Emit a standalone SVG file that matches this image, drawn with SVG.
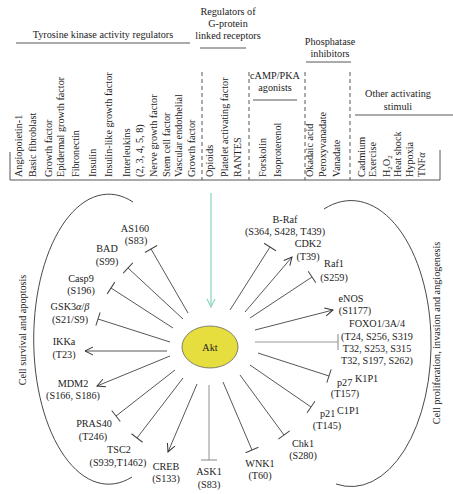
<svg xmlns="http://www.w3.org/2000/svg" width="453" height="494" viewBox="0 0 453 494">
<defs>
<style>
text{font-family:"Liberation Serif","Times New Roman",serif;font-size:10.2px;fill:#222}
.c{text-anchor:middle}
.v{text-anchor:start}
.ln{stroke:#444;stroke-width:0.9;fill:none}
.lg{stroke:#999;stroke-width:1.1;fill:none}
.hd{stroke:#444;stroke-width:0.9;fill:none}
.ds{stroke:#444;stroke-width:0.9;stroke-dasharray:4,3;fill:none}
.arc{stroke:#333;stroke-width:0.9;fill:none}
.act{marker-end:url(#ah)}
.inh{marker-end:url(#bar)}
.inhg{marker-end:url(#barg)}
</style>
<marker id="ah" markerUnits="userSpaceOnUse" markerWidth="12" markerHeight="12" refX="9" refY="5" orient="auto"><path d="M1,1 L9,5 L1,9" fill="none" stroke="#333" stroke-width="1"/></marker>
<marker id="bar" markerUnits="userSpaceOnUse" markerWidth="4" markerHeight="16" refX="2" refY="8" orient="auto"><path d="M2,1 L2,15" stroke="#444" stroke-width="1"/></marker>
<marker id="barg" markerUnits="userSpaceOnUse" markerWidth="4" markerHeight="18" refX="2" refY="9" orient="auto"><path d="M2,1 L2,17" stroke="#999" stroke-width="1.2"/></marker>
<marker id="ahg" markerUnits="userSpaceOnUse" markerWidth="12" markerHeight="12" refX="9" refY="5" orient="auto"><path d="M1,1 L9,5 L1,9" fill="none" stroke="#8fd6c2" stroke-width="1.2"/></marker>
</defs>
<rect width="453" height="494" fill="#fff"/>

<g id="header-frame">
<path class="hd" d="M16,43 H190 M200,48 H246 M306,62 H351 M253,100 H297 M355,115 H453"/>
<path class="hd" d="M10,152 V180 H440 M440,150 V180"/>
<path class="ds" d="M202,72 V180 M249,72 V180 M305,72 V180 M350,72 V180"/>
</g>

<g id="tyrosine-kinase">
<text class="c" x="103" y="38">Tyrosine kinase activity regulators</text>
<text class="v" transform="translate(22,177) rotate(-90)">Angiopoietin-1</text>
<text class="v" transform="translate(36,177) rotate(-90)">Basic fibroblast</text>
<text class="v" transform="translate(52,177) rotate(-90)">Growth factor</text>
<text class="v" transform="translate(64,177) rotate(-90)">Epidermal growth factor</text>
<text class="v" transform="translate(79,177) rotate(-90)">Fibronectin</text>
<text class="v" transform="translate(96,177) rotate(-90)">Insulin</text>
<text class="v" transform="translate(112,177) rotate(-90)">Insulin-like growth factor</text>
<text class="v" transform="translate(130,177) rotate(-90)">Interleukins</text>
<text class="v" transform="translate(143,177) rotate(-90)">(2, 3, 4, 5, 8)</text>
<text class="v" transform="translate(157,177) rotate(-90)">Nerve growth factor</text>
<text class="v" transform="translate(170,177) rotate(-90)">Stem cell factor</text>
<text class="v" transform="translate(182,177) rotate(-90)">Vascular endothelial</text>
<text class="v" transform="translate(195,177) rotate(-90)">Growth factor</text>
</g>

<g id="gprotein">
<text class="c" x="228" y="15">Regulators of</text>
<text class="c" x="228" y="27">G-protein</text>
<text class="c" x="228" y="38.5">linked receptors</text>
<text class="v" transform="translate(213,177) rotate(-90)">Opioids</text>
<text class="v" transform="translate(228,177) rotate(-90)">Platelet activating factor</text>
<text class="v" transform="translate(241,177) rotate(-90)">RANTES</text>
</g>

<g id="camp">
<text class="c" x="275" y="79">cAMP/PKA</text>
<text class="c" x="275" y="91">agonists</text>
<text class="v" transform="translate(266,177) rotate(-90)">Forskolin</text>
<text class="v" transform="translate(281,177) rotate(-90)">Isoproterenol</text>
</g>

<g id="phosphatase">
<text class="c" x="330" y="45">Phosphatase</text>
<text class="c" x="330" y="57">inhibitors</text>
<text class="v" transform="translate(313,177) rotate(-90)">Okadaic acid</text>
<text class="v" transform="translate(326,177) rotate(-90)">Peroxyvanadate</text>
<text class="v" transform="translate(340,177) rotate(-90)">Vanadate</text>
</g>

<g id="other">
<text class="c" x="398" y="97">Other activating</text>
<text class="c" x="398" y="110">stimuli</text>
<text class="v" transform="translate(365,177) rotate(-90)">Cadmium</text>
<text class="v" transform="translate(376,177) rotate(-90)">Exercise</text>
<text class="v" transform="translate(390,177) rotate(-90)">H<tspan font-size="7" dy="2">2</tspan><tspan dy="-2">O</tspan><tspan font-size="7" dy="2">2</tspan></text>
<text class="v" transform="translate(401,177) rotate(-90)">Heat shock</text>
<text class="v" transform="translate(413,177) rotate(-90)">Hypoxia</text>
<text class="v" transform="translate(425,177) rotate(-90)">TNF<tspan font-style="italic">α</tspan></text>
</g>

<g id="arcs">
<path class="arc" d="M133,202 A75,145 0 1 0 132,477"/>
<path class="arc" d="M324,209 A80,143 0 1 1 336,484"/>
<text class="c" transform="translate(26,330) rotate(-90)">Cell survival and apoptosis</text>
<text class="c" transform="translate(440,333) rotate(-90)">Cell proliferation, invasion and angiogenesis</text>
</g>

<g id="connectors">
<path d="M211,193 V307" stroke="#8fd6c2" stroke-width="1.3" fill="none" marker-end="url(#ahg)"/>
<path class="ln inh" d="M188,313 L151,249"/>
<path class="ln inh" d="M183,319 L128,268"/>
<path class="ln inh" d="M173,328 L111,288"/>
<path class="ln inh" d="M170,342 L98,319"/>
<path class="ln act" d="M167,351 L85,351"/>
<path class="ln act" d="M170,356 L97,386"/>
<path class="ln inh" d="M175,370 L116,416"/>
<path class="ln inh" d="M183,378 L137,438"/>
<path class="ln act" d="M197,384 L168,452"/>
<path class="lg inhg" d="M209,385 L209,460"/>
<path class="ln inh" d="M223,382 L252,450"/>
<path class="ln inh" d="M240,375 L284,435"/>
<path class="ln inh" d="M250,365 L311,407"/>
<path class="ln inh" d="M258,353 L329,376"/>
<path class="lg inhg" d="M255,342 L338,342"/>
<path class="ln act" d="M255,330 L333,310"/>
<path class="ln inh" d="M250,318 L312,277"/>
<path class="ln act" d="M245,312 L292,257"/>
<path class="ln inh" d="M230,310 L270,247"/>
</g>

<g id="akt">
<ellipse cx="210" cy="347" rx="28" ry="21" fill="#e6dd3e" stroke="#666" stroke-width="0.8"/>
<text class="c" x="210" y="351">Akt</text>
</g>

<g id="as160"><text class="c" x="135" y="232">AS160</text><text class="c" x="136" y="244">(S83)</text></g>
<g id="bad"><text class="c" x="107" y="252">BAD</text><text class="c" x="107" y="265">(S99)</text></g>
<g id="casp9"><text class="c" x="81" y="282">Casp9</text><text class="c" x="81" y="294">(S196)</text></g>
<g id="gsk3"><text class="c" x="70" y="310">GSK3<tspan font-style="italic">α</tspan>/<tspan font-style="italic">β</tspan></text><text class="c" x="70" y="323">(S21/S9)</text></g>
<g id="ikka"><text class="c" x="64" y="345">IKKa</text><text class="c" x="64" y="358">(T23)</text></g>
<g id="mdm2"><text class="c" x="73" y="387">MDM2</text><text class="c" x="73" y="399">(S166, S186)</text></g>
<g id="pras40"><text class="c" x="94" y="427">PRAS40</text><text class="c" x="93" y="440">(T246)</text></g>
<g id="tsc2"><text class="c" x="119" y="453">TSC2</text><text class="c" x="118" y="466">(S939,T1462)</text></g>
<g id="creb"><text class="c" x="166" y="470">CREB</text><text class="c" x="166" y="482">(S133)</text></g>
<g id="ask1"><text class="c" x="209" y="475">ASK1</text><text class="c" x="209" y="488">(S83)</text></g>
<g id="wnk1"><text class="c" x="260" y="467">WNK1</text><text class="c" x="260" y="479">(T60)</text></g>
<g id="chk1"><text class="c" x="303" y="447">Chk1</text><text class="c" x="303" y="459">(S280)</text></g>
<g id="p21"><text x="320" y="417">p21</text><text x="337" y="414">C1P1</text><text class="c" x="327" y="429">(T145)</text></g>
<g id="p27"><text x="337" y="386">p27</text><text x="355" y="382">K1P1</text><text class="c" x="345" y="397">(T157)</text></g>
<g id="foxo"><text class="c" x="377" y="327">FOXO1/3A/4</text><text class="c" x="377" y="340">(T24, S256, S319</text><text class="c" x="377" y="352">T32, S253, S315</text><text class="c" x="377" y="364">T32, S197, S262)</text></g>
<g id="enos"><text class="c" x="351" y="302">eNOS</text><text class="c" x="355" y="314">(S1177)</text></g>
<g id="raf1"><text class="c" x="334" y="267">Raf1</text><text class="c" x="334" y="281">(S259)</text></g>
<g id="cdk2"><text class="c" x="308" y="247">CDK2</text><text class="c" x="308" y="260">(T39)</text></g>
<g id="braf"><text class="c" x="285" y="223">B-Raf</text><text class="c" x="285" y="235">(S364, S428, T439)</text></g>
</svg>
